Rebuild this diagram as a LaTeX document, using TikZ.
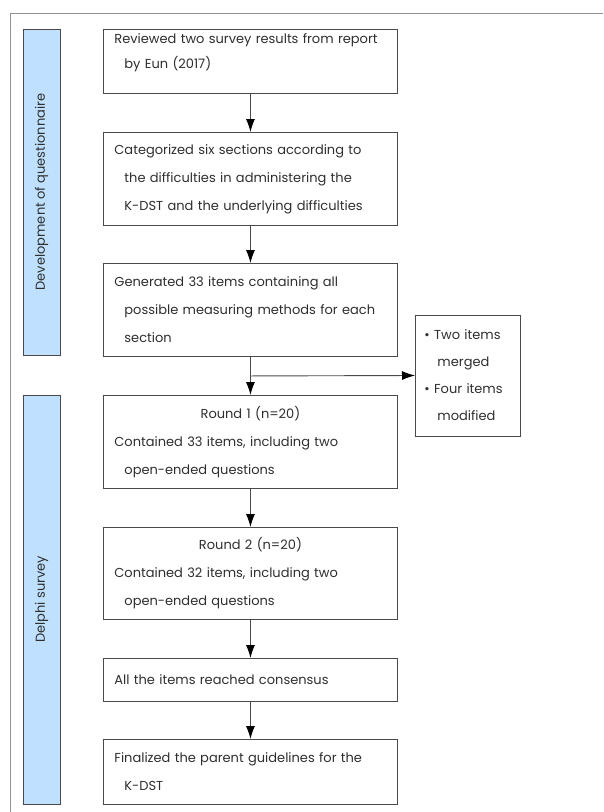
\documentclass[tikz,border=0pt]{standalone}
\usepackage{fontspec}
\setmainfont{Poppins}
\usepackage{xcolor}
\usetikzlibrary{arrows.meta, calc, positioning}
\definecolor{barblue}{HTML}{BFE1FF}
\definecolor{linegrey}{HTML}{4A4A4A}
\definecolor{textgrey}{HTML}{2E2E2E}
\tikzset{
  % Flow arrow style
  farr/.style={
    line width = 0.9pt
    , draw=linegrey
    , -{Latex[length=13pt,width=9pt,color=black]}
  },
}
\tikzset{
  % step box style
  stepbox/.style={
    draw=linegrey
    , line width=0.9pt
    , anchor=north west
    , minimum width=294pt
    , text width=272pt
    , inner xsep=11pt
    , align=left
    , text=textgrey
    , font=\fontsize{13}{28}\selectfont
  },
  % phase bar style
  phasebar/.style={
    draw=linegrey
    , fill=barblue
    , line width=0.9pt
    , minimum height=37pt
    , rotate=90
    , text=textgrey
    , font=\fontsize{13}{14}\selectfont
  },
}
\newcommand{\ind}{\hspace*{10pt}}
\newcommand{\midline}[1]{\makebox[\linewidth]{#1}}
\begin{document}
\begin{tikzpicture}[x=1pt, y=-1pt]
  \useasboundingbox (0,0) rectangle (603,812);
  % outer frame
  \draw[draw=linegrey!60, line width=0.8pt] (10,812) -- (10,13) -- (603,13);
  % phase bars
  \node[phasebar, minimum width=326pt] (dev) at (41.5,192)
    {Development of questionnaire};
  \node[phasebar, minimum width=409pt] (delphi) at (41.5,599.5)
    {Delphi survey};
  % steps
  \node[stepbox, minimum height=64pt, font=\fontsize{13}{25}\selectfont]
    (review) at (103,29)
    {Reviewed two survey results from report\\\ind by Eun (2017)\par\vspace*{18pt}};
  \node[stepbox, minimum height=93pt] (categ) at (103,132)
    {Categorized six sections according to\\\ind the difficulties in administering the\\\ind K-DST and the underlying difficulties};
  \node[stepbox, minimum height=93pt] (gener) at (103,263)
    {Generated 33 items containing all\\\ind possible measuring methods for each\\\ind section};
  \node[stepbox, minimum height=93pt] (round1) at (103,395)
    {\midline{Round 1 (n=20)}\\Contained 33 items, including two\\\ind open-ended questions};
  \node[stepbox, minimum height=92pt] (round2) at (103,527)
    {\midline{Round 2 (n=20)}\\Contained 32 items, including two\\\ind open-ended questions};
  \node[stepbox, minimum height=43pt] (consensus) at (103,658)
    {All the items reached consensus};
  \node[stepbox, minimum height=65pt] (final) at (103,739)
    {Finalized the parent guidelines for the\\\ind K-DST};
  % side note
  \node[stepbox, anchor=west, minimum width=105pt, minimum height=121pt,
        text width=97pt, inner xsep=4pt, font=\fontsize{13}{27}\selectfont]
    (modif) at (415,375.5)
    {\hspace*{5pt}\textbullet\ Two items\\\hspace*{18pt}merged\\\hspace*{5pt}\textbullet\ Four items\\\hspace*{18pt}modified};
  % connectors
  \coordinate (split) at ($(gener.south)!0.5!(round1.north)$);
  \foreach \a/\b in {review/categ, categ/gener, gener/round1, round1/round2,
                     round2/consensus, consensus/final}
    \draw[farr] (\a.south) -- (\b.north);
  \draw[farr] (split) -- (modif.west);
\end{tikzpicture}
\end{document}
